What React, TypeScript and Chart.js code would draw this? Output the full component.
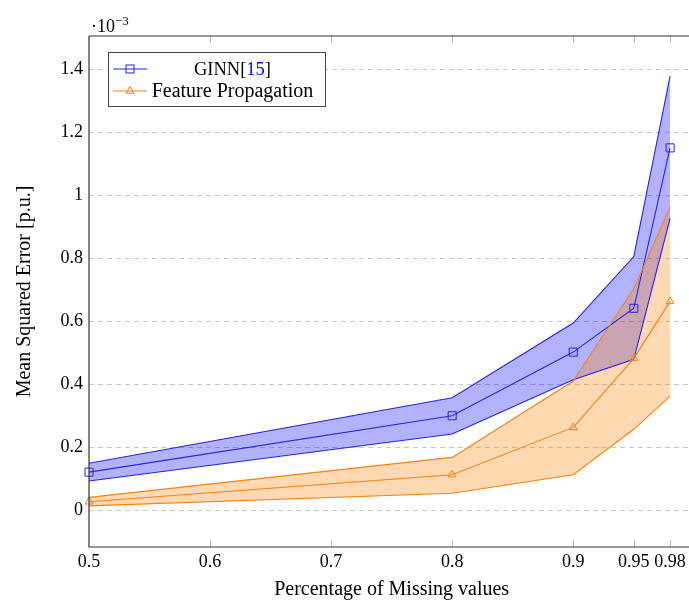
import React, { useEffect, useRef } from "react";
import { Chart, registerables } from "chart.js";

Chart.register(...registerables);

// ---- data (values in units of 1e-3) ----
const missingRates = [0.5, 0.8, 0.9, 0.95, 0.98];
const ginnMean = [0.121, 0.3, 0.502, 0.641, 1.15];
const ginnUpper = [0.149, 0.357, 0.594, 0.805, 1.378];
const ginnLower = [0.093, 0.242, 0.414, 0.479, 0.926];
const fpMean = [0.027, 0.113, 0.263, 0.482, 0.663];
const fpUpper = [0.041, 0.168, 0.41, 0.703, 0.962];
const fpLower = [0.014, 0.054, 0.113, 0.257, 0.362];

const xTickValues = [0.5, 0.6, 0.7, 0.8, 0.9, 0.95, 0.98];
const yTickValues = [0, 0.2, 0.4, 0.6, 0.8, 1, 1.2, 1.4];
const ginnName = "GINN";
const ginnCite = "15";
const fpName = "Feature Propagation";
const xTitle = "Percentage of Missing values";
const yTitle = "Mean Squared Error [p.u.]";
const exponentBase = "·10";
const exponentPower = "−3";

const FONT = '"Liberation Serif", "Times New Roman", serif';
const BLUE = "rgb(35,35,235)";
const BLUE_FILL = "rgba(0,0,255,0.3)";
const ORANGE = "rgb(250,128,20)";
const ORANGE_FILL = "rgba(255,128,0,0.3)";

const pts = (ys: number[]) => missingRates.map((x, i) => ({ x, y: ys[i] }));

function drawSquare(ctx: CanvasRenderingContext2D, x: number, y: number, s: number, color: string) {
  ctx.strokeStyle = color;
  ctx.lineWidth = 1;
  ctx.strokeRect(x - s / 2, y - s / 2, s, s);
}
function drawTriangle(ctx: CanvasRenderingContext2D, x: number, y: number, r: number, color: string) {
  ctx.strokeStyle = color;
  ctx.lineWidth = 1;
  ctx.beginPath();
  ctx.moveTo(x, y - r);
  ctx.lineTo(x + r * 0.866, y + r * 0.5);
  ctx.lineTo(x - r * 0.866, y + r * 0.5);
  ctx.closePath();
  ctx.stroke();
}

const framePlugin = {
  id: "pgfFrame",
  afterDatasetsDraw(chart: any) {
    const ctx = chart.ctx as CanvasRenderingContext2D;
    const { left, right, top, bottom } = chart.chartArea;
    const xs = chart.scales.x;
    ctx.save();
    ctx.strokeStyle = "#bdbdbd";
    ctx.lineWidth = 1;
    xTickValues.forEach((v) => {
      const px = Math.round(xs.getPixelForValue(v)) + 0.5;
      if (px - left < 2) return;
      ctx.beginPath();
      ctx.moveTo(px, top);
      ctx.lineTo(px, top + 7);
      ctx.moveTo(px, bottom);
      ctx.lineTo(px, bottom - 7);
      ctx.stroke();
    });
    ctx.strokeStyle = "#333";
    ctx.lineWidth = 1.2;
    ctx.beginPath();
    ctx.moveTo(left, top);
    ctx.lineTo(right, top);
    ctx.moveTo(left, top);
    ctx.lineTo(left, bottom);
    ctx.lineTo(right, bottom);
    ctx.stroke();
    ctx.restore();
  },
  afterDraw(chart: any) {
    const ctx = chart.ctx as CanvasRenderingContext2D;
    const { left, top } = chart.chartArea;
    ctx.save();
    const bx = left + 19.5, by = top + 16.5, bw = 217, bh = 54;
    ctx.fillStyle = "#fff";
    ctx.fillRect(bx, by, bw, bh);
    ctx.strokeStyle = "#444";
    ctx.lineWidth = 1;
    ctx.strokeRect(bx, by, bw, bh);
    const lx0 = bx + 4.5, lx1 = bx + 38.5, mx = bx + 21.5;
    const r1 = by + 16.5, r2 = by + 38.5;
    ctx.lineWidth = 1.1;
    ctx.strokeStyle = BLUE;
    ctx.beginPath(); ctx.moveTo(lx0, r1); ctx.lineTo(lx1, r1); ctx.stroke();
    drawSquare(ctx, mx, r1, 8, BLUE);
    ctx.strokeStyle = ORANGE;
    ctx.beginPath(); ctx.moveTo(lx0, r2); ctx.lineTo(lx1, r2); ctx.stroke();
    drawTriangle(ctx, mx, r2, 4.5, ORANGE);
    ctx.textBaseline = "middle";
    ctx.textAlign = "left";
    const cx = bx + 124;
    ctx.font = `18.5px ${FONT}`;
    const p1 = ginnName + "[", p2 = ginnCite, p3 = "]";
    const w1 = ctx.measureText(p1).width, w2 = ctx.measureText(p2).width, w3 = ctx.measureText(p3).width;
    let tx = cx - (w1 + w2 + w3) / 2;
    ctx.fillStyle = "#000"; ctx.fillText(p1, tx, r1 + 1); tx += w1;
    ctx.fillStyle = "rgb(0,0,255)"; ctx.fillText(p2, tx, r1 + 1); tx += w2;
    ctx.fillStyle = "#000"; ctx.fillText(p3, tx, r1 + 1);
    ctx.font = `20px ${FONT}`;
    const wf = ctx.measureText(fpName).width;
    ctx.fillText(fpName, cx - wf / 2, r2 + 1);
    ctx.textBaseline = "alphabetic";
    ctx.font = `18px ${FONT}`;
    ctx.fillText(exponentBase, left + 2, top - 4);
    const wb = ctx.measureText(exponentBase).width;
    ctx.font = `13px ${FONT}`;
    ctx.fillText(exponentPower, left + 2 + wb, top - 11);
    ctx.restore();
  },
};

export default function App() {
  const canvasRef = useRef<HTMLCanvasElement | null>(null);

  useEffect(() => {
    if (!canvasRef.current) return;
    const bandLine = (color: string) => ({
      borderColor: color,
      borderWidth: 1.1,
      pointRadius: 0,
      tension: 0,
    });
    const chart = new Chart(canvasRef.current, {
      type: "line",
      data: {
        datasets: [
          { label: "FP upper", data: pts(fpUpper), ...bandLine(ORANGE), fill: "+1", backgroundColor: ORANGE_FILL },
          { label: "FP lower", data: pts(fpLower), ...bandLine(ORANGE), fill: false },
          {
            label: fpName, data: pts(fpMean), borderColor: ORANGE, borderWidth: 1.1, fill: false,
            pointStyle: "triangle", pointRadius: 4.5, pointBorderColor: ORANGE, pointBorderWidth: 1,
            pointBackgroundColor: "rgba(0,0,0,0)", clip: false,
          },
          { label: "GINN upper", data: pts(ginnUpper), ...bandLine(BLUE), fill: "+1", backgroundColor: BLUE_FILL },
          { label: "GINN lower", data: pts(ginnLower), ...bandLine(BLUE), fill: false },
          {
            label: ginnName, data: pts(ginnMean), borderColor: BLUE, borderWidth: 1.1, fill: false,
            pointStyle: "rect", pointRadius: 5.7, pointBorderColor: BLUE, pointBorderWidth: 1,
            pointBackgroundColor: "rgba(0,0,0,0)", clip: false,
          },
        ] as any,
      },
      options: {
        animation: false,
        responsive: false,
        devicePixelRatio: 1,
        layout: { padding: { top: 36, left: 0, right: 0, bottom: 0 } },
        plugins: {
          legend: { display: false },
          tooltip: { enabled: false },
          filler: { drawTime: "beforeDatasetsDraw" },
        } as any,
        scales: {
          x: {
            type: "linear",
            min: 0.5,
            max: 1.0,
            afterBuildTicks: (s: any) => { s.ticks = xTickValues.map((v) => ({ value: v })); },
            afterFit: (s: any) => { s.height = 53; },
            grid: { display: false, drawTicks: false },
            border: { display: false },
            ticks: {
              autoSkip: false,
              maxRotation: 0,
              padding: 4,
              color: "#000",
              font: { family: FONT, size: 18 },
              callback: (v: any) => String(v),
            },
            title: {
              display: true, text: xTitle, color: "#000",
              font: { family: FONT, size: 20, lineHeight: 1.0 }, padding: { top: 0, bottom: 0 },
            },
          },
          y: {
            type: "linear",
            min: -0.1165,
            max: 1.505,
            afterBuildTicks: (s: any) => { s.ticks = yTickValues.map((v) => ({ value: v })); },
            afterFit: (s: any) => { s.width = 89; },
            grid: { color: "#c8c8c8", lineWidth: 1, drawTicks: false },
            border: { display: false, dash: [5, 4] },
            ticks: {
              padding: 6,
              color: "#000",
              font: { family: FONT, size: 18 },
              callback: (v: any) => String(Math.round(Number(v) * 10) / 10),
            },
            title: {
              display: true, text: yTitle, color: "#000",
              font: { family: FONT, size: 20, lineHeight: 1.0 }, padding: { top: 15, bottom: 0 },
            },
          },
        },
      } as any,
      plugins: [framePlugin],
    });
    return () => chart.destroy();
  }, []);

  return (
    <div style={{ position: "absolute", left: 0, top: 0, width: 689, height: 600, overflow: "hidden", background: "#fff" }}>
      <canvas ref={canvasRef} width={701} height={600} style={{ width: 701, height: 600, display: "block" }} />
    </div>
  );
}
